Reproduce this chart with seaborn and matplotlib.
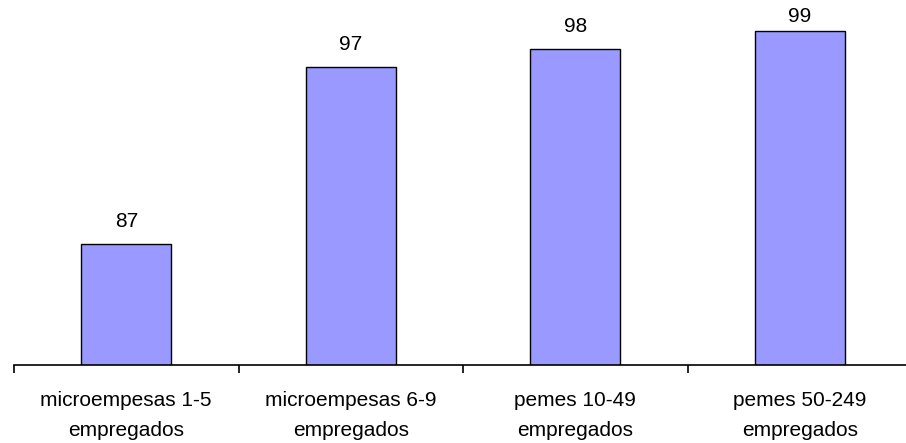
import matplotlib
matplotlib.use("Agg")
import matplotlib.pyplot as plt
import pandas as pd
import seaborn as sns

categories = [
    "microempesas 1-5\nempregados",
    "microempesas 6-9\nempregados",
    "pemes 10-49\nempregados",
    "pemes 50-249\nempregados",
]
values = [87, 97, 98, 99]

df = pd.DataFrame({"categoria": categories, "valor": values})

sns.set_theme(style="white")
plt.rcParams["font.family"] = ["Liberation Sans", "DejaVu Sans"]

fig = plt.figure(figsize=(9.06, 4.43), dpi=100)
ax = fig.add_axes([14 / 906, 78 / 443, 898 / 906, 365 / 443])

sns.barplot(
    data=df,
    x="categoria",
    y="valor",
    color="#9999FF",
    saturation=1,
    width=0.4,
    edgecolor="black",
    linewidth=1,
    ax=ax,
)

ax.set_xlim(-0.5, 3.5)
ax.set_ylim(80.2, 100.76)
ax.set(xlabel="", ylabel="")
ax.set_yticks([])
for s in ["left", "right", "top"]:
    ax.spines[s].set_visible(False)
ax.spines["bottom"].set_color("black")
ax.spines["bottom"].set_linewidth(1.2)

ax.set_xticks([-0.5, 0.5, 1.5, 2.5, 3.5], minor=True)
ax.tick_params(axis="x", which="minor", length=6, width=1.2, color="black", bottom=True)
ax.tick_params(axis="x", which="major", length=0, pad=19, labelsize=15, labelcolor="black")
for lbl in ax.get_xticklabels():
    lbl.set_linespacing(1.72)

# value labels; the last one sits closer to its bar (top of the chart area)
pads = [9.5, 9.5, 9.5, 4]
for patch, v, p in zip(ax.patches, values, pads):
    ax.annotate(
        str(v),
        (patch.get_x() + patch.get_width() / 2, patch.get_height()),
        xytext=(0, p),
        textcoords="offset points",
        ha="center",
        va="bottom",
        fontsize=15,
        color="black",
    )

fig.savefig("out.png", dpi=100)
